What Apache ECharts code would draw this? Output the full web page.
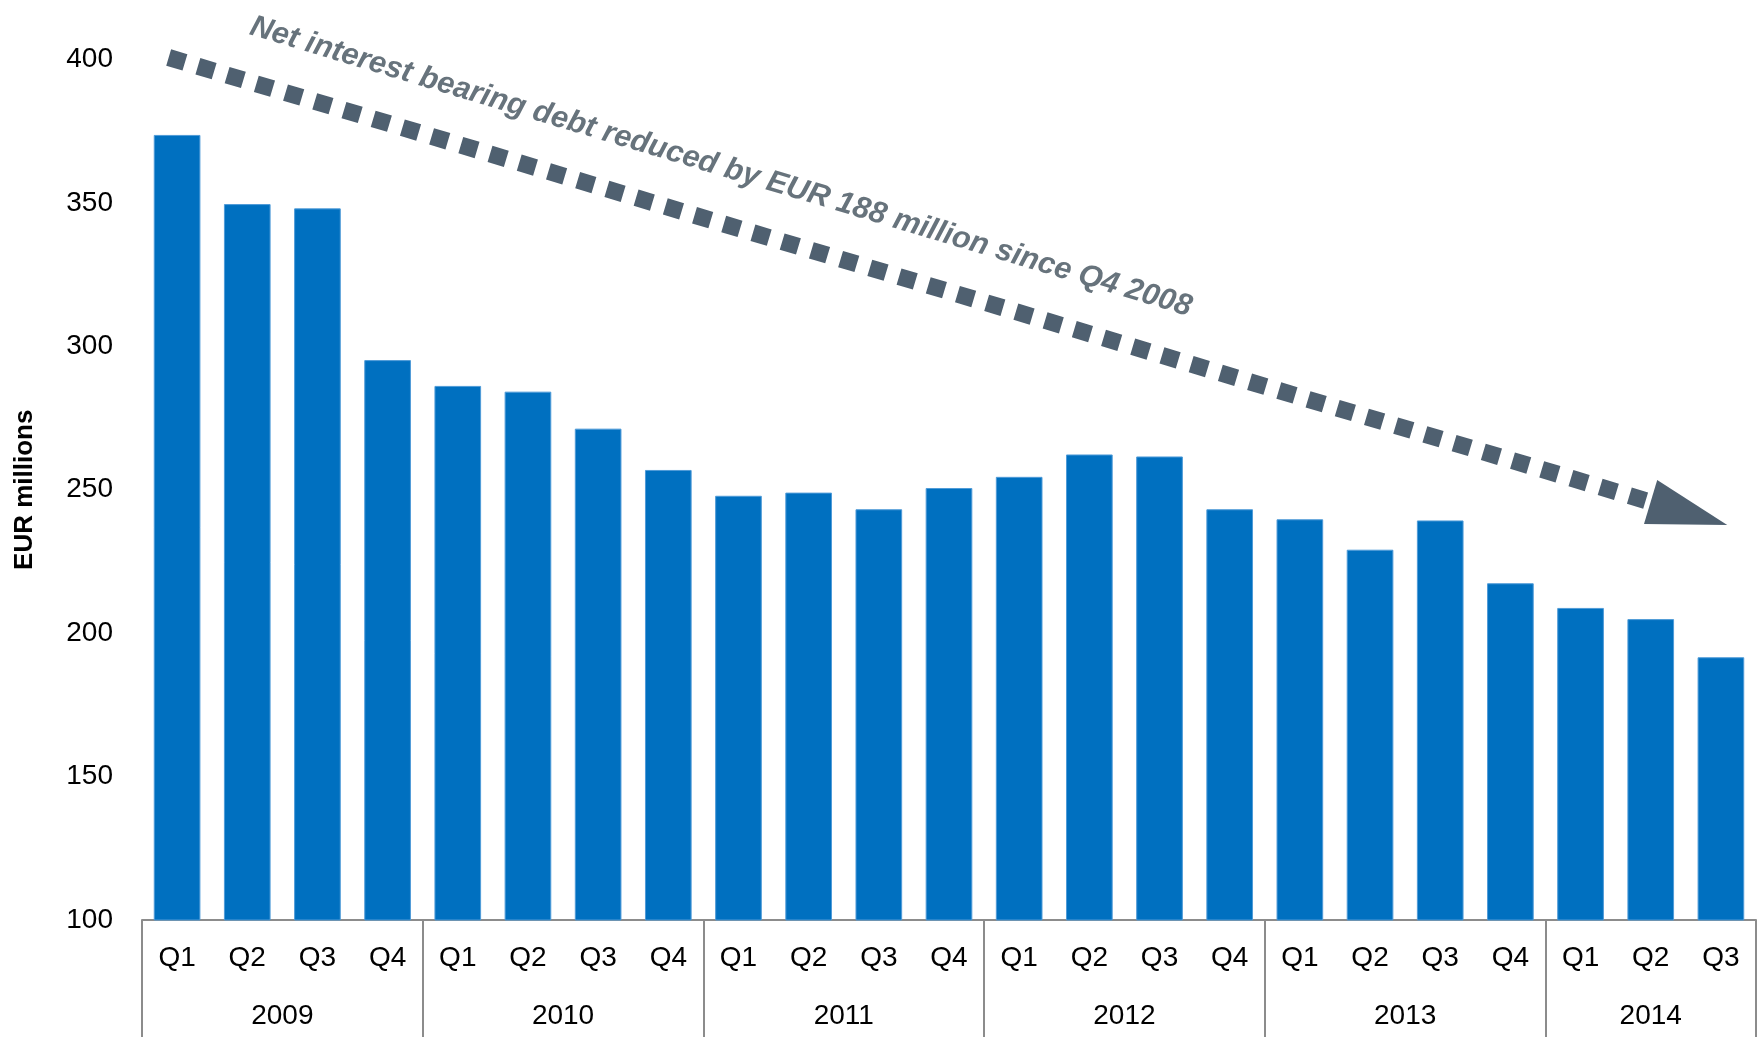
<!DOCTYPE html>
<html>
<head>
<meta charset="utf-8">
<script src="https://cdn.jsdelivr.net/npm/echarts@6/dist/echarts.min.js"></script>
<style>
html,body{margin:0;padding:0;background:#fff;}
#chart{width:1760px;height:1037px;}
</style>
</head>
<body>
<div id="chart"></div>
<script>
// ---- data ----
var quarters = ['Q1','Q2','Q3','Q4','Q1','Q2','Q3','Q4','Q1','Q2','Q3','Q4','Q1','Q2','Q3','Q4','Q1','Q2','Q3','Q4','Q1','Q2','Q3'];
var years = ['2009','2010','2011','2012','2013','2014'];
var quartersPerYear = [4,4,4,4,4,3];
var debt = [373.7,349.6,348.1,295.2,286.2,284.2,271.3,256.9,247.9,249.0,243.2,250.6,254.5,262.3,261.6,243.2,239.7,229.1,239.3,217.4,208.8,204.9,191.6];
var yTicks = [100,150,200,250,300,350,400];
var annotationText = 'Net interest bearing debt reduced by EUR 188 million since Q4 2008';
// arrow in data space: [x start (quarter units), value start, x end, value end]
var trendArrow = [[0.38, 400.7, 22.59, 237.7]];

// ---- build half-quarter year axis (boundaries + centers) ----
var nQ = quarters.length;
var yearSlots = [];
var yearBoundaryIdx = {};
var yearCenterIdx = {};
(function(){
  for (var j = 0; j <= nQ*2; j++) yearSlots.push('');
  var start = 0;
  yearBoundaryIdx[0] = true;
  for (var k = 0; k < years.length; k++) {
    var end = start + quartersPerYear[k];
    var c = start + end; // center in half-quarter units
    yearSlots[c] = years[k];
    yearCenterIdx[c] = true;
    yearBoundaryIdx[end*2] = true;
    start = end;
  }
})();

var FONT = "'Liberation Sans',Arial,sans-serif";
var chart = echarts.init(document.getElementById('chart'), null, {renderer:'canvas'});
var option = {
  animation: false,
  grid: {left: 142, right: 4, top: 59.5, bottom: 117, containLabel: false},
  xAxis: [
    {
      type: 'category', data: quarters, position: 'bottom',
      axisLine: {show: true, lineStyle: {color: '#8c8c8c', width: 2}},
      axisTick: {show: false},
      axisLabel: {color: '#000', fontSize: 28, fontFamily: FONT, margin: 24, lineHeight: 28},
      splitLine: {show: false}
    },
    {
      type: 'category', data: yearSlots, position: 'bottom', boundaryGap: false,
      axisLine: {show: false},
      axisTick: {show: true, length: 120, lineStyle: {color: '#8c8c8c', width: 2},
                 interval: function(i){ return !!yearBoundaryIdx[i]; }},
      axisLabel: {color: '#000', fontSize: 28, fontFamily: FONT, margin: 82, lineHeight: 28,
                  interval: function(i){ return !!yearCenterIdx[i]; }},
      splitLine: {show: false}
    },
    {
      type: 'value', min: 0, max: nQ, show: false
    }
  ],
  yAxis: {
    type: 'value', min: 100, max: 400, interval: 50,
    name: 'EUR millions', nameLocation: 'middle', nameGap: 104,
    nameTextStyle: {fontSize: 26, fontWeight: 'bold', color: '#000', fontFamily: FONT},
    axisLine: {show: false}, axisTick: {show: false}, splitLine: {show: false},
    axisLabel: {color: '#000', fontSize: 28, fontFamily: FONT, margin: 29,
                customValues: yTicks}
  },
  series: [
    {
      type: 'bar', data: debt, xAxisIndex: 0, yAxisIndex: 0,
      barCategoryGap: '33.5%',
      itemStyle: {color: '#0070C0', borderColor: '#4f9bd8', borderWidth: 1}
    },
    {
      type: 'custom', xAxisIndex: 2, yAxisIndex: 0, clip: false, silent: true,
      data: trendArrow,
      encode: {x: [0, 2], y: [1, 3]},
      renderItem: function(params, api){
        var p0 = api.coord([api.value(0), api.value(1)]);
        var p1 = api.coord([api.value(2), api.value(3)]);
        var dx = p1[0]-p0[0], dy = p1[1]-p0[1];
        var L = Math.sqrt(dx*dx+dy*dy), ux = dx/L, uy = dy/L;
        var headLen = 80, headW = 46;
        var bx = p1[0]-ux*headLen, by = p1[1]-uy*headLen;
        return {type: 'group', children: [
          {type: 'line', shape: {x1: p0[0], y1: p0[1], x2: bx, y2: by},
           style: {stroke: '#4f6070', lineWidth: 17, lineDash: [17, 13.5], lineCap: 'butt'}},
          {type: 'polygon', shape: {points: [[p1[0], p1[1]], [bx - uy*headW/2, by + ux*headW/2], [bx + uy*headW/2, by - ux*headW/2]]},
           style: {fill: '#4f6070'}}
        ]};
      }
    }
  ],
  graphic: [
    {
      type: 'text', x: 721, y: 167, rotation: -16.7*Math.PI/180, silent: true,
      style: {text: annotationText, fontSize: 30.5, fontWeight: 'bold', fontStyle: 'italic',
              fontFamily: FONT, fill: '#67737c', align: 'center', verticalAlign: 'middle'}
    }
  ]
};
chart.setOption(option);
</script>
</body>
</html>
